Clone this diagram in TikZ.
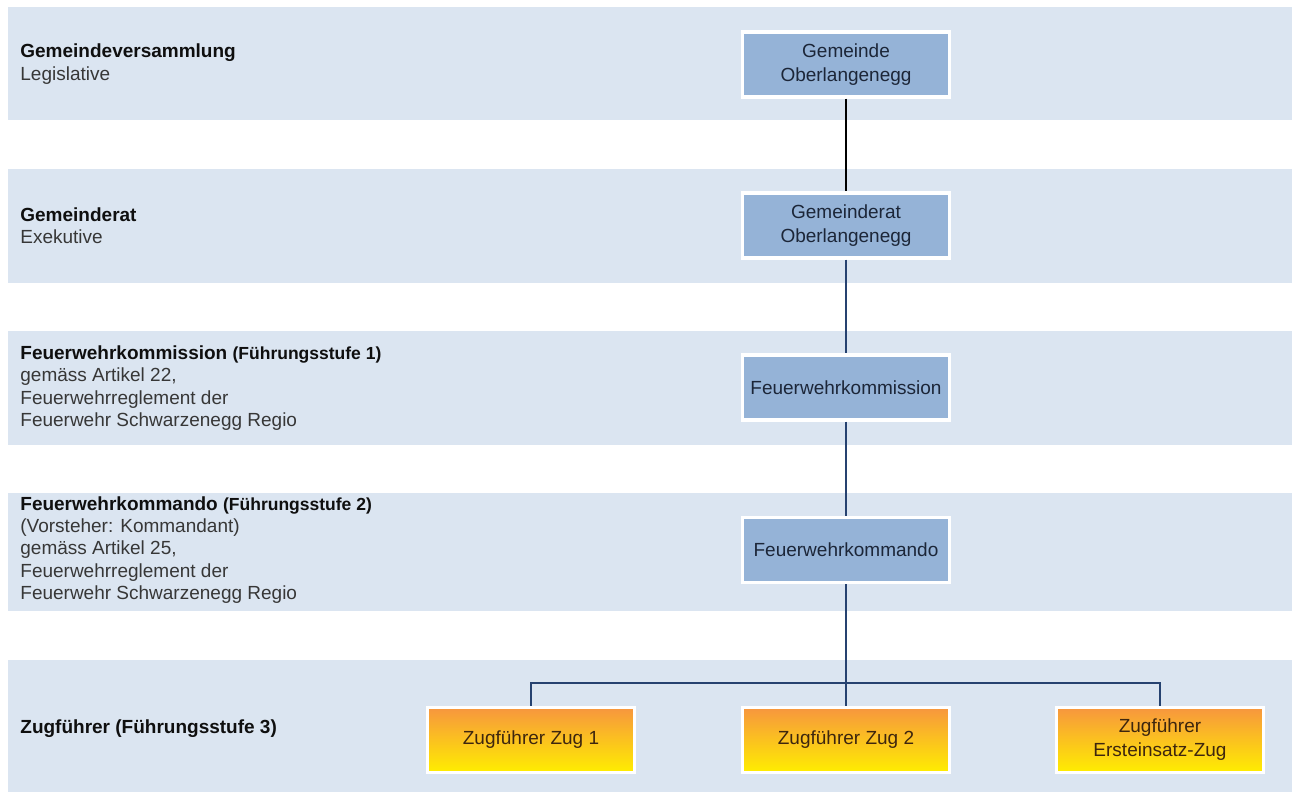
\documentclass[tikz,border=0pt]{standalone}
\usepackage{fontspec}
\setmainfont{Liberation Sans}
\usetikzlibrary{
  positioning,  % relative placement
  calc,         % coordinate calculations
}
\definecolor{bandfill}{RGB}{219,229,241}
\definecolor{boxfill}{RGB}{149,179,215}
\definecolor{linkblue}{RGB}{38,66,112}
\definecolor{zugtop}{RGB}{247,150,62}
\definecolor{zugbottom}{RGB}{255,238,0}
\definecolor{titletext}{RGB}{15,15,15}
\definecolor{subtext}{RGB}{55,55,55}
\definecolor{boxtext}{RGB}{28,38,56}
\definecolor{zugtext}{RGB}{62,38,14}
\newcommand{\titel}[1]{{\bfseries\color{titletext}#1}}
\newcommand{\stufe}[1]{{\bfseries\fontsize{8.75}{11.2}\selectfont\color{titletext}#1}}
\tikzset{
  band/.style={
    fill=bandfill,
    draw=none
  },
  my box/.style={
    draw=white,
    line width=1.6pt,
    minimum width=103.5pt,
    minimum height=32.5pt,
    inner sep=1pt,
    align=center,
    font=\fontsize{9.5}{12}\selectfont,
    rectangle
  },
  leit box/.style={
    my box,
    fill=boxfill,
    text=boxtext
  },
  zug box/.style={
    my box,
    top color=zugtop,
    bottom color=zugbottom,
    text=zugtext
  },
  level label/.style={
    anchor=west,
    align=left,
    inner sep=0pt,
    font=\fontsize{9.5}{11.2}\selectfont,
    text=subtext
  },
  link/.style={
    draw=linkblue,
    line width=1pt
  }
}

\begin{document}
\begin{tikzpicture}[x=0.5pt,y=-0.5pt]
\useasboundingbox[fill=white] (0,0) rectangle (1298,794);
% Ebenen
\fill[band] (8,7)   rectangle (1292,120);
\fill[band] (8,169) rectangle (1292,283);
\fill[band] (8,331) rectangle (1292,445);
\fill[band] (8,493) rectangle (1292,611);
\fill[band] (8,660) rectangle (1292,792);

% Beschriftung links
\node[level label] (versammlung)  at (20,64)  {\titel{Gemeindeversammlung}\\Legislative};
\node[level label] (gemeinderat)  at (20,226) {\titel{Gemeinderat}\\Exekutive};
\node[level label] (fwkommission) at (20,388) {\titel{Feuerwehrkommission} \stufe{(Führungsstufe 1)}\\gemäss Artikel 22,\\Feuerwehrreglement der\\Feuerwehr Schwarzenegg Regio};
\node[level label] (fwkommando)   at (20,550) {\titel{Feuerwehrkommando} \stufe{(Führungsstufe 2)}\\(Vorsteher: Kommandant)\\gemäss Artikel 25,\\Feuerwehrreglement der\\Feuerwehr Schwarzenegg Regio};
\node[level label] (zugfuehrer)   at (20,729) {\titel{Zugführer (Führungsstufe 3)}};

% Organe
\node[leit box] (gemeinde)   at (846,64.5)  {Gemeinde\\Oberlangenegg};
\node[leit box] (rat)        at (846,225.5) {Gemeinderat\\Oberlangenegg};
\node[leit box] (kommission) at (846,387.5) {Feuerwehrkommission};
\node[leit box] (kommando)   at (846,550)   {Feuerwehrkommando};
\node[zug box]  (zug1)       at (531,740)   {Zugführer Zug 1};
\node[zug box]  (zug2)       at (846,740)   {Zugführer Zug 2};
\node[zug box]  (zug3)       at (1160,740)  {Zugführer\\Ersteinsatz-Zug};
\coordinate (bus) at (846,683);

% Verbindungen
\draw[link,draw=black] (gemeinde) -- (rat);
\draw[link] (rat) -- (kommission);
\draw[link] (kommission) -- (kommando);
\draw[link] (kommando) -- (zug2);
\draw[link] (zug1) |- (bus) -| (zug3);
\end{tikzpicture}
\end{document}
